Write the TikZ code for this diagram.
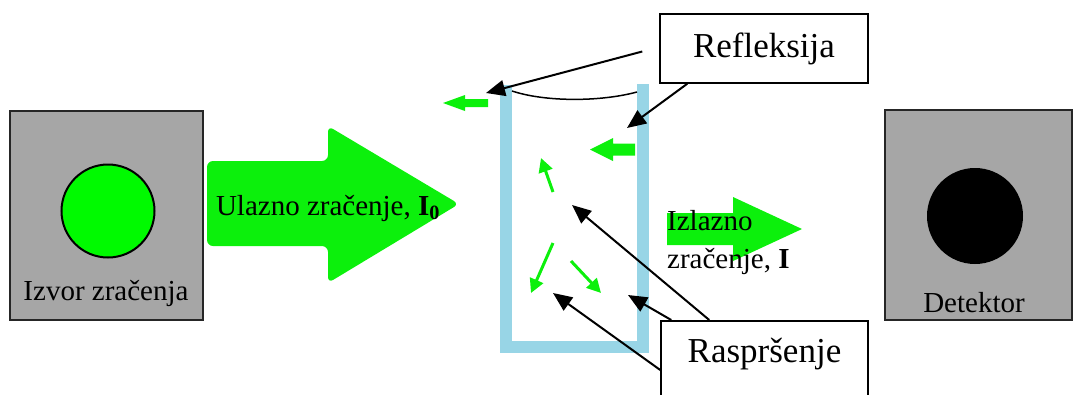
\documentclass[tikz,border=0pt]{standalone}
\usepackage{fontspec}
\setmainfont{Liberation Serif}
\usetikzlibrary{arrows.meta,calc}
\definecolor{boxgray}{RGB}{166,166,166}
\definecolor{lgreen}{RGB}{12,240,12}
\definecolor{cgreen}{RGB}{0,250,0}
\definecolor{cuv}{RGB}{152,213,230}
\begin{document}
\begin{tikzpicture}[x=1pt,y=-1pt,
 panel/.style={draw=black!85, line width=1.5pt, fill=boxgray, inner sep=0},
 lbl/.style={draw=black, line width=1.5pt, fill=white, inner sep=0, font=\fontsize{35}{42}\selectfont},
 txt/.style={font=\fontsize{29}{38}\selectfont, inner sep=0},
 ptr/.style={draw=black, line width=2pt, -{Triangle[length=19pt,width=16pt]}},
 garrow/.style={draw=lgreen, line width=3pt, -{Triangle[length=14pt,width=14pt]}},
 ]
\useasboundingbox (0,0) rectangle (1074,394);
\clip (0,0) rectangle (1074,394);

% source
\node[panel, minimum width=193pt, minimum height=209pt] (src) at (106.5,215.5) {};
\node[circle, draw, line width=2pt, fill=cgreen, minimum size=93pt, inner sep=0] (srcc) at (108,211) {};
\node[txt, anchor=base] (srct) at (106,300) {Izvor zračenja};

% detector
\node[panel, minimum width=187pt, minimum height=210pt] (det) at (978.5,215) {};
\node[circle, fill=black, minimum size=96pt, inner sep=0] (detc) at (975,216) {};
\node[txt, anchor=base] (dett) at (974,312) {Detektor};

% incoming arrow
\fill[lgreen, rounded corners=6pt] (207,161)--(328,161)--(328,126)--(459,204)--(328,283)--(328,246)--(207,246)--cycle;
\node[txt, anchor=base] (inl) at (328,215) {Ulazno zračenje, \textbf{I\textsubscript{0}}};

% cuvette
\draw[cuv, line width=12pt, line join=miter] (505.5,85) -- (505.5,347) -- (643,347) -- (643,84);
\draw[black, line width=1.5pt] (512,91) .. controls (545,102) and (600,102) .. (637,92);

% outgoing arrow
\fill[lgreen] (667,213)--(733,213)--(733,197)--(802,229)--(733,261)--(733,245)--(667,245)--cycle;
\node[txt, align=left, anchor=north west] (outl) at (667,210) {Izlazno\\zračenje, \textbf{I}};

% small green block arrows
\fill[lgreen] (488,99)--(465,99)--(465,95)--(443,103)--(465,111)--(465,107)--(488,107)--cycle;
\fill[lgreen] (635,143.5)--(613,143.5)--(613,138)--(590,149.5)--(613,161)--(613,155.5)--(635,155.5)--cycle;

% thin green arrows
\coordinate (g1a) at (553,192); \coordinate (g1b) at (541,158);
\coordinate (g2a) at (553,243); \coordinate (g2b) at (531,293);
\coordinate (g3a) at (571,261); \coordinate (g3b) at (601,293);
\draw[garrow] (g1a) -- (g1b);
\draw[garrow] (g2a) -- (g2b);
\draw[garrow] (g3a) -- (g3b);

% labels
\node[lbl, minimum width=208pt, minimum height=69pt] (refl) at (764,48.5) {Refleksija};
\node[lbl, minimum width=207pt, anchor=north, text height=42pt, text depth=40pt, inner ysep=0] (rasp) at (764.5,320) {Raspršenje};

% pointers
\coordinate (r1) at (486,93);
\coordinate (r2) at (627,128);
\coordinate (s1) at (572,205);
\coordinate (s2) at (628,295);
\coordinate (s3) at (553,293);
\draw[ptr] ($(refl.west)+(-17,3)$) -- (r1);
\draw[ptr] ($(refl.south west)+(28,0)$) -- (r2);
\draw[ptr] ($(rasp.north west)+(49,0)$) -- (s1);
\draw[ptr] ($(rasp.north west)+(11,0)$) -- (s2);
\draw[ptr] ($(rasp.north west)+(0,50)$) -- (s3);
\end{tikzpicture}
\end{document}
